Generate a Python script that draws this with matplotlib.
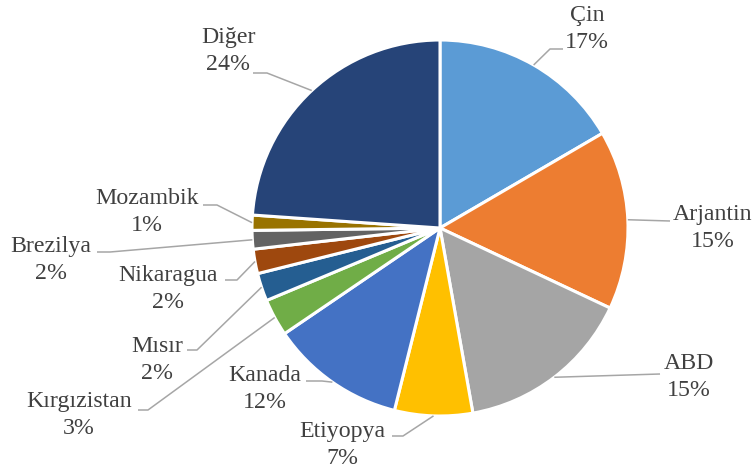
import matplotlib
matplotlib.use("Agg")
import matplotlib.pyplot as plt
import numpy as np

# ---- data ----
categories = ["Çin", "Arjantin", "ABD", "Etiyopya", "Kanada", "Kırgızistan",
              "Mısır", "Nikaragua", "Brezilya", "Mozambik", "Diğer"]
shares = [16.6, 15.4, 15.2, 6.7, 11.6, 3.2, 2.4, 2.1, 1.6, 1.3, 23.9]
colors = ["#5B9BD5", "#ED7D31", "#A5A5A5", "#FFC000", "#4472C4", "#70AD47",
          "#255E91", "#9E480E", "#636363", "#997300", "#264478"]

# ---- layout (pixel positions in the 754x468 image) ----
W, H = 754, 468
CX, CY, R = 440, 228, 188
# text block centre, and leader-line elbow points (from outside in)
label_pos = [(587, 29), (713, 228), (689, 377), (342, 445), (265, 389),
             (79, 415), (157, 360), (168, 289), (51, 260), (147, 212), (228, 51)]
leader_pts = [[(563, 49), (550, 49)],
              [(670, 221)],
              [(660, 374)],
              [(392, 436), (403, 436)],
              [(306, 381), (322, 381)],
              [(138, 410), (148, 410)],
              [(187, 350), (197, 350)],
              [(225, 280), (237, 280)],
              [(97, 252), (110, 252)],
              [(203, 205), (217, 205)],
              [(253, 73), (267, 73)]]


def px(x, y):
    return (x - CX) / R, (CY - y) / R


plt.rcParams['font.family'] = 'Liberation Serif'

fig = plt.figure(figsize=(W / 100, H / 100), dpi=100)
ax = fig.add_axes([0, 0, 1, 1])

wedges, _ = ax.pie(shares, colors=colors, startangle=90, counterclock=False,
                   radius=1, center=(0, 0),
                   wedgeprops=dict(edgecolor='white', linewidth=2.2),
                   frame=True)
ax.set_xlim(-CX / R, (W - CX) / R)
ax.set_ylim(-(H - CY) / R, CY / R)
ax.set_aspect('auto')
ax.axis('off')

for w, cat, val, lp, pts in zip(wedges, categories, shares, label_pos, leader_pts):
    mid = np.deg2rad((w.theta1 + w.theta2) / 2)
    xs = [np.cos(mid)] + [px(*p)[0] for p in reversed(pts)]
    ys = [np.sin(mid)] + [px(*p)[1] for p in reversed(pts)]
    ax.plot(xs, ys, color='#A6A6A6', lw=1.1, solid_capstyle='butt', zorder=1)
    tx, ty = px(*lp)
    ax.text(tx, ty, f"{cat}\n{round(val):d}%", ha='center', va='center',
            fontsize=17.2, color='#404040', linespacing=1.43,
            family='Liberation Serif')

fig.savefig("out.png", dpi=100, facecolor='white')
